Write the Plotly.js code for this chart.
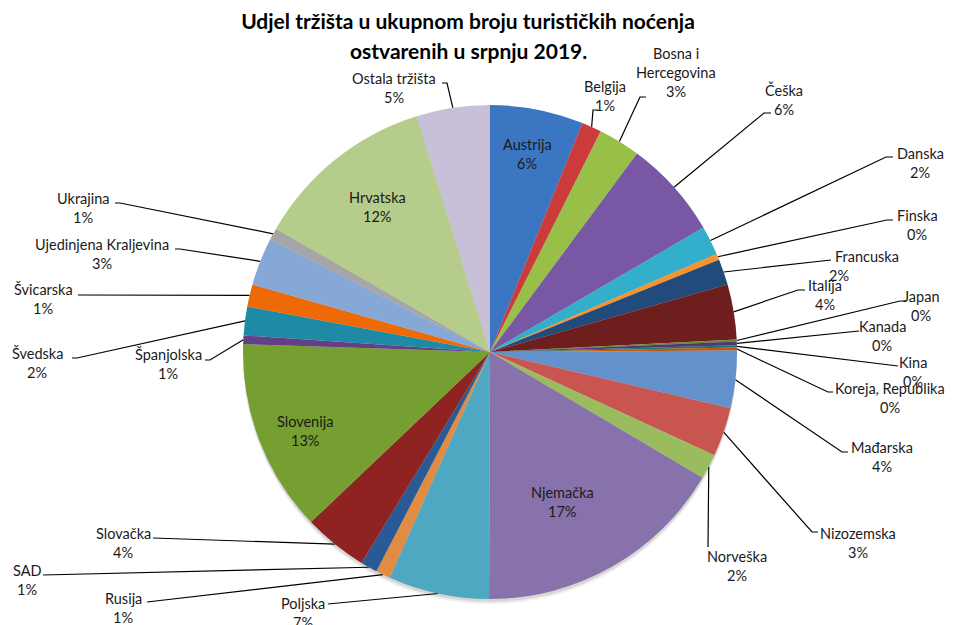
<!DOCTYPE html>
<html>
<head>
<meta charset="utf-8">
<script src="https://cdn.plot.ly/plotly-3.0.1.min.js"></script>
<style>html,body{margin:0;padding:0;background:#fff;}#chart{width:955px;height:625px;}</style>
</head>
<body>
<div id="chart"></div>
<script>
// ---- DATA ----
const categories = ["Austrija","Belgija","Bosna i Hercegovina","Češka","Danska","Finska","Francuska","Italija","Japan","Kanada","Kina","Koreja, Republika","Mađarska","Nizozemska","Norveška","Njemačka","Poljska","Rusija","SAD","Slovačka","Slovenija","Španjolska","Švedska","Švicarska","Ujedinjena Kraljevina","Ukrajina","Hrvatska","Ostala tržišta"];
const shares = [6.1,1.3,2.75,6.45,1.9,0.4,1.7,3.6,0.12,0.25,0.14,0.2,3.75,3.2,1.65,16.55,6.6,0.95,1.1,4.2,12.6,0.56,1.88,1.46,3.15,0.76,11.88,4.8];
const titleLines = ["Udjel tržišta u ukupnom broju turističkih noćenja","ostvarenih u srpnju 2019."];

// ---- STYLE / LAYOUT ----
const colors = ["#3A76C2","#CC3B3B","#98BF48","#7857A4","#33AECB","#F7922E","#224A7A","#6E1E1D","#6E8A2E","#4E3A6E","#1F6F80","#C05A0A","#6391CC","#C95551","#9BBC5E","#8872AC","#4FA8C2","#E28B42","#2A5A95","#8E2322","#759F31","#643F86","#1F8AA6","#EE6A06","#85A8D6","#A6A6A6","#B5CC8A","#C8C0D8"];
const W = 955, H = 625, CX = 490, CY = 352, R = 247;
const wrap = {"Bosna i Hercegovina": ["Bosna i","Hercegovina"]};
// label placement: c = [centerX, firstLineY]; l = [elbow, stubEnd] in pixels; no l = inside label
const labelPos = {
 "Austrija": {c:[527,144]},
 "Belgija": {c:[605,86], l:[[593,110],[598,110]]},
 "Bosna i Hercegovina": {c:[676,53], l:[[640,97],[646,97]]},
 "Češka": {c:[784,90], l:[[764,113],[771,113]]},
 "Danska": {c:[920,153], l:[[886,157],[893,157]]},
 "Finska": {c:[917,215], l:[[887,220],[893,220]]},
 "Francuska": {c:[867,256], l:[[826,260],[831,260]], p:839},
 "Italija": {c:[825,285], l:[[798,290],[805,290]]},
 "Japan": {c:[921,296], l:[[900,301],[905,301]]},
 "Kanada": {c:[882,326], l:[[854,331],[859,331]]},
 "Kina": {c:[913,362], l:[[893,366],[898,366]]},
 "Koreja, Republika": {c:[890,388], l:[[828,392],[833,392]]},
 "Mađarska": {c:[882,447], l:[[842,452],[848,452]]},
 "Nizozemska": {c:[858,533], l:[[812,532],[818,532]]},
 "Norveška": {c:[737,556], l:[[708,547],[708,547]]},
 "Njemačka": {c:[562,492]},
 "Poljska": {c:[303,603], l:[[334,604],[328,604]]},
 "Rusija": {c:[123,598], l:[[152,602],[147,602]]},
 "SAD": {c:[27,570], l:[[48,575],[43,575]]},
 "Slovačka": {c:[123,533], l:[[158,538],[153,538]]},
 "Slovenija": {c:[305,421]},
 "Španjolska": {c:[168,354], l:[[210,360],[205,360]]},
 "Švedska": {c:[37,353], l:[[77,358],[72,358]]},
 "Švicarska": {c:[43,289], l:[[83,295],[78,295]]},
 "Ujedinjena Kraljevina": {c:[102,244], l:[[180,249],[175,249]]},
 "Ukrajina": {c:[83,198], l:[[120,203],[115,203]]},
 "Hrvatska": {c:[377,197]},
 "Ostala tržišta": {c:[394,78], l:[[447,83],[442,83]]}
};
const LINE = 19;
const FONT = "Lato, 'Open Sans', sans-serif";

const total = shares.reduce((a,b)=>a+b,0);
let cum = 0;
const lx = [], ly = [];
const annotations = [];
categories.forEach((name,i)=>{
  const v = shares[i];
  const mid = (cum + v/2)/total * 2*Math.PI;
  cum += v;
  const pos = labelPos[name];
  const lines = (wrap[name] || [name]).concat([Math.round(100*v/total) + "%"]);
  lines.forEach((t,k)=>{
    let x = pos.c[0];
    if (k === lines.length-1 && pos.p) x = pos.p;
    annotations.push({x:x, y:pos.c[1]+k*LINE, xref:"x", yref:"y", text:t, showarrow:false,
      xanchor:"center", yanchor:"middle", font:{family:FONT, size:14.5, color:"#1a1a1a"}});
  });
  if (pos.l) {
    const ex = CX + R*Math.sin(mid), ey = CY - R*Math.cos(mid);
    lx.push(ex, pos.l[0][0], pos.l[1][0], null);
    ly.push(ey, pos.l[0][1], pos.l[1][1], null);
  }
});
annotations.push({x:468, y:50, xref:"x", yref:"y", text:titleLines[1], showarrow:false,
  xanchor:"center", yanchor:"middle", font:{family:FONT, size:21, color:"#000", weight:700}});

const pie = {
  type:"pie", values:shares, labels:categories, sort:false, direction:"clockwise", rotation:0,
  marker:{colors:colors, line:{width:0}}, textinfo:"none", hoverinfo:"label+percent",
  domain:{x:[(CX-R)/W,(CX+R)/W], y:[1-(CY+R)/H, 1-(CY-R)/H]}, showlegend:false
};
const leaders = {type:"scatter", mode:"lines", x:lx, y:ly, line:{color:"#000", width:1.2},
  hoverinfo:"skip", showlegend:false, cliponaxis:false};

const shadow = (dy, a) => ({type:"circle", xref:"paper", yref:"paper", layer:"below",
  x0:(CX-R)/W, x1:(CX+R)/W, y0:1-(CY+R+dy)/H, y1:1-(CY-R+dy)/H,
  fillcolor:"rgba(0,0,0,"+a+")", line:{width:0}});

const layout = {
  width:W, height:H, margin:{l:0,r:0,t:0,b:0}, paper_bgcolor:"#fff", plot_bgcolor:"rgba(0,0,0,0)",
  showlegend:false,
  title:{text:titleLines[0], x:468/W, xanchor:"center", xref:"paper", y:1-22/H, yanchor:"middle", yref:"paper",
    font:{family:FONT, size:21, color:"#000", weight:700}},
  xaxis:{range:[0,W], visible:false, fixedrange:true, domain:[0,1]},
  yaxis:{range:[H,0], visible:false, fixedrange:true, domain:[0,1]},
  annotations:annotations,
  shapes:[shadow(5,0.06), shadow(3,0.10)]
};
Plotly.newPlot("chart", [leaders, pie], layout, {displayModeBar:false, staticPlot:true});
</script>
</body>
</html>
